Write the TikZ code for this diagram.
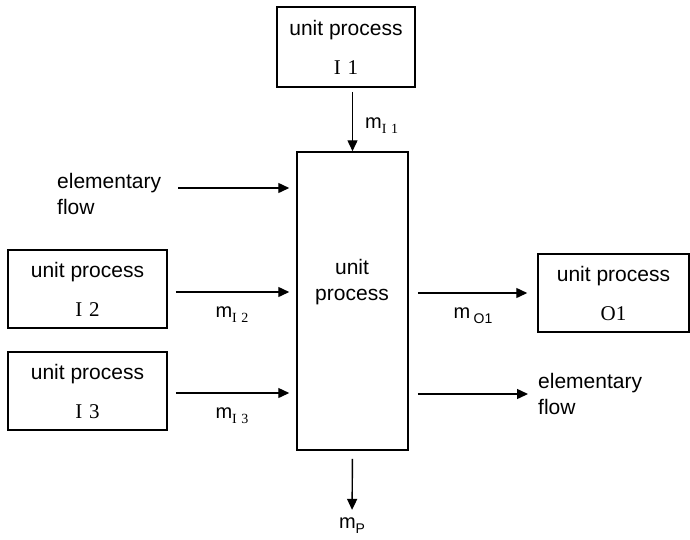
\documentclass[tikz,border=0pt]{standalone}
\usepackage{fontspec}
\setmainfont{Liberation Sans}
\newfontfamily\serifnum{Liberation Serif}
\usetikzlibrary{arrows.meta, positioning}
\tikzset{>= {Triangle[length = 11pt, width = 10pt]},
         every node/.style = {font = \fontsize{21}{26}\selectfont},
         procbox/.style = {draw, line width = 1.5pt, align = center, inner sep = 0pt},
         flow/.style = {->, line width = 1.4pt},
         flowtext/.style = {align = left, inner sep = 0pt, anchor = west},
         mlabel/.style = {inner sep = 0pt, font = \fontsize{20}{24}\selectfont}}
\newcommand{\procname}[1]{unit process\\[13pt]{\serifnum #1}}
\newcommand{\flowsub}[1]{\raisebox{-5pt}{\fontsize{14}{14}\selectfont #1}}

\begin{document}
\begin{tikzpicture}[x = 1pt, y = -1pt]
        \useasboundingbox (0,0) rectangle (690,539);

        \node[procbox, minimum width = 111pt, minimum height = 298pt] (main) at (352.5,301) {};
        \node[align = center, inner sep = 0pt]  (maintxt) at (352,282)  {unit\\process};

        \node[procbox, minimum width = 138pt, minimum height = 80pt]  (I1) at (346,47)    {\procname{I\,\,1}};
        \node[procbox, minimum width = 159pt, minimum height = 78pt]  (I2) at (87.5,289)  {\procname{I\,\,2}};
        \node[procbox, minimum width = 159pt, minimum height = 78pt]  (I3) at (87.5,391)  {\procname{I\,\,3}};
        \node[procbox, minimum width = 151pt, minimum height = 78pt]  (O1) at (613.5,293) {\procname{O1}};

        \node[flowtext] (efin)  at (57,194)  {elementary\\flow};
        \node[flowtext] (efout) at (538,394) {elementary\\flow};
        \coordinate (efa) at (178,188);
        \node[mlabel] (mP) at (352,526) {m\flowsub{P}};

        % inputs
        \draw[flow, shorten <= 4pt] (main.north |- I1.south) -- (main.north)
            node[pos = 0.6, right = 12pt, mlabel] {m\flowsub{\serifnum I\,\,1}};
        \draw[flow, shorten >= 7pt] (efa) -- (efa -| main.west);
        \draw[flow, shorten <= 8pt, shorten >= 7pt] ([yshift = -3pt]I2.east) -- ([yshift = -3pt]I2.east -| main.west)
            node[midway, below = 14pt, mlabel] {m\flowsub{\serifnum I\,\,2}};
        \draw[flow, shorten <= 8pt, shorten >= 7pt] ([yshift = -2pt]I3.east) -- ([yshift = -2pt]I3.east -| main.west)
            node[midway, below = 14pt, mlabel] {m\flowsub{\serifnum I\,\,3}};

        % outputs
        \draw[flow, shorten <= 9pt, shorten >= 10pt] (main.east |- O1.west) -- (O1.west)
            node[midway, below = 14pt, mlabel] {m\,\flowsub{O1}};
        \draw[flow, shorten <= 9pt, shorten >= 10pt] (main.east |- efout.west) -- (efout.west);
        \draw[flow, shorten <= 8pt, shorten >= 8pt] (main.south) -- (mP.north);
\end{tikzpicture}
\end{document}
